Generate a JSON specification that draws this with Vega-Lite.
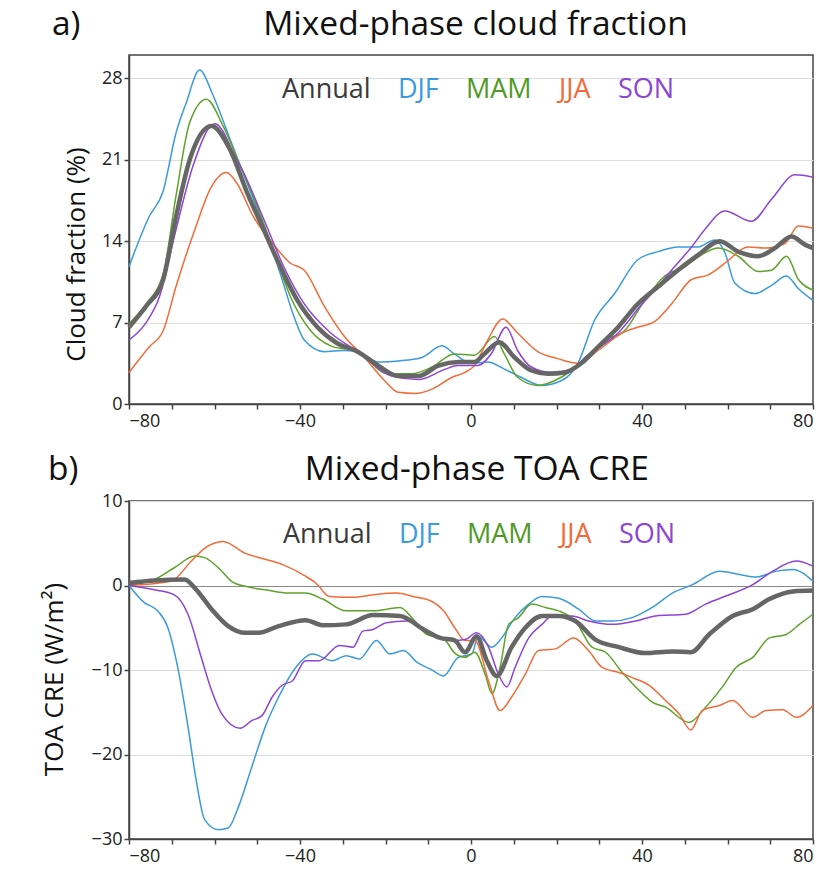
{
  "$schema": "https://vega.github.io/schema/vega-lite/v6.json",
  "padding": {"left": 40, "top": 6, "right": 5, "bottom": 5},
  "background": "white",
  "config": {
    "font": "Open Sans",
    "view": {"stroke": "#444", "strokeWidth": 1.5},
    "axis": {
      "labelFont": "Open Sans", "labelFontSize": 18, "labelColor": "#222",
      "titleFont": "Open Sans", "titleFontSize": 26, "titleFontWeight": "normal", "titleColor": "#111",
      "domainColor": "#444", "domainWidth": 1.5, "tickColor": "#444", "tickWidth": 1.5, "tickSize": 5,
      "gridColor": "#dddddd", "gridWidth": 1.2
    },
    "title": {"font": "Open Sans", "fontSize": 33.5, "fontWeight": "normal", "color": "#111", "anchor": "start", "frame": "group"},
    "legend": {"title": null}
  },
  "datasets": {
    "cf": [
      {"s":"Annual","lat":-80,"v":6.6},{"s":"Annual","lat":-76,"v":8.4},{"s":"Annual","lat":-72,"v":10.7},{"s":"Annual","lat":-69,"v":16.1},{"s":"Annual","lat":-65.8,"v":21},{"s":"Annual","lat":-60.7,"v":23.9},{"s":"Annual","lat":-56.4,"v":21.9},{"s":"Annual","lat":-52.4,"v":18.2},{"s":"Annual","lat":-48.5,"v":15},{"s":"Annual","lat":-44.6,"v":11.8},{"s":"Annual","lat":-40.6,"v":8.9},{"s":"Annual","lat":-35.9,"v":6.6},{"s":"Annual","lat":-31.2,"v":5.2},{"s":"Annual","lat":-26.5,"v":4.5},{"s":"Annual","lat":-21.7,"v":3.3},{"s":"Annual","lat":-17,"v":2.4},{"s":"Annual","lat":-12.3,"v":2.4},{"s":"Annual","lat":-7.6,"v":3.3},{"s":"Annual","lat":-2.8,"v":3.6},{"s":"Annual","lat":0.8,"v":3.6},{"s":"Annual","lat":3.1,"v":4.3},{"s":"Annual","lat":6.6,"v":5.3},{"s":"Annual","lat":10.2,"v":4.0},{"s":"Annual","lat":14,"v":2.9},{"s":"Annual","lat":18,"v":2.6},{"s":"Annual","lat":21.9,"v":2.7},{"s":"Annual","lat":25.8,"v":3.5},{"s":"Annual","lat":29.7,"v":4.9},{"s":"Annual","lat":34.4,"v":6.6},{"s":"Annual","lat":39,"v":8.6},{"s":"Annual","lat":43.8,"v":10.1},{"s":"Annual","lat":48.4,"v":11.5},{"s":"Annual","lat":53.1,"v":12.8},{"s":"Annual","lat":58.2,"v":14.0},{"s":"Annual","lat":62.5,"v":13.1},{"s":"Annual","lat":67.2,"v":12.7},{"s":"Annual","lat":71.1,"v":13.4},{"s":"Annual","lat":75,"v":14.4},{"s":"Annual","lat":78.1,"v":13.7},{"s":"Annual","lat":80,"v":13.4},
      {"s":"DJF","lat":-80,"v":11.8},{"s":"DJF","lat":-75.3,"v":16.1},{"s":"DJF","lat":-72.1,"v":18.2},{"s":"DJF","lat":-69,"v":23.3},{"s":"DJF","lat":-66.6,"v":25.9},{"s":"DJF","lat":-63.5,"v":28.7},{"s":"DJF","lat":-60.3,"v":26.5},{"s":"DJF","lat":-56.4,"v":22.8},{"s":"DJF","lat":-52.4,"v":19},{"s":"DJF","lat":-48.5,"v":15.3},{"s":"DJF","lat":-44.6,"v":11.2},{"s":"DJF","lat":-41.4,"v":7.5},{"s":"DJF","lat":-39,"v":5.5},{"s":"DJF","lat":-34.3,"v":4.5},{"s":"DJF","lat":-30,"v":4.6},{"s":"DJF","lat":-26.5,"v":4.5},{"s":"DJF","lat":-21.7,"v":3.6},{"s":"DJF","lat":-17,"v":3.7},{"s":"DJF","lat":-11.5,"v":4.0},{"s":"DJF","lat":-6.8,"v":5.0},{"s":"DJF","lat":-3.9,"v":4.3},{"s":"DJF","lat":0,"v":3.5},{"s":"DJF","lat":3.9,"v":3.6},{"s":"DJF","lat":7.8,"v":3.0},{"s":"DJF","lat":11.7,"v":2.3},{"s":"DJF","lat":16.4,"v":1.6},{"s":"DJF","lat":21.1,"v":2.0},{"s":"DJF","lat":25,"v":3.5},{"s":"DJF","lat":28.9,"v":7.2},{"s":"DJF","lat":33.6,"v":9.5},{"s":"DJF","lat":39,"v":12.4},{"s":"DJF","lat":43.8,"v":13.1},{"s":"DJF","lat":48.4,"v":13.5},{"s":"DJF","lat":53.1,"v":13.5},{"s":"DJF","lat":57,"v":14.1},{"s":"DJF","lat":59.4,"v":13},{"s":"DJF","lat":61.7,"v":10.4},{"s":"DJF","lat":66.4,"v":9.5},{"s":"DJF","lat":70.3,"v":10.2},{"s":"DJF","lat":73.8,"v":11},{"s":"DJF","lat":76.6,"v":9.9},{"s":"DJF","lat":80,"v":8.9},
      {"s":"MAM","lat":-80,"v":6.9},{"s":"MAM","lat":-76,"v":8.6},{"s":"MAM","lat":-72,"v":11.2},{"s":"MAM","lat":-69,"v":17.9},{"s":"MAM","lat":-65.8,"v":24.2},{"s":"MAM","lat":-61.9,"v":26.2},{"s":"MAM","lat":-58,"v":23.9},{"s":"MAM","lat":-54,"v":20.5},{"s":"MAM","lat":-50,"v":17},{"s":"MAM","lat":-46,"v":13},{"s":"MAM","lat":-42.2,"v":9.2},{"s":"MAM","lat":-37.5,"v":6.3},{"s":"MAM","lat":-32.8,"v":5.0},{"s":"MAM","lat":-26.5,"v":4.5},{"s":"MAM","lat":-19.4,"v":2.6},{"s":"MAM","lat":-13.9,"v":2.6},{"s":"MAM","lat":-9,"v":3.2},{"s":"MAM","lat":-3.9,"v":4.3},{"s":"MAM","lat":0.8,"v":4.2},{"s":"MAM","lat":5.5,"v":5.8},{"s":"MAM","lat":7.8,"v":4.3},{"s":"MAM","lat":10.9,"v":2.3},{"s":"MAM","lat":15.6,"v":1.6},{"s":"MAM","lat":21.1,"v":2.3},{"s":"MAM","lat":25,"v":3.3},{"s":"MAM","lat":31.3,"v":5.5},{"s":"MAM","lat":35.9,"v":6.3},{"s":"MAM","lat":40.6,"v":8.9},{"s":"MAM","lat":45.3,"v":11},{"s":"MAM","lat":50,"v":11.8},{"s":"MAM","lat":54.7,"v":13},{"s":"MAM","lat":57.8,"v":13.4},{"s":"MAM","lat":62.5,"v":12.7},{"s":"MAM","lat":67.2,"v":11.4},{"s":"MAM","lat":70.3,"v":11.5},{"s":"MAM","lat":73.8,"v":12.7},{"s":"MAM","lat":76.6,"v":10.7},{"s":"MAM","lat":80,"v":9.8},
      {"s":"JJA","lat":-80,"v":2.7},{"s":"JJA","lat":-75.3,"v":4.9},{"s":"JJA","lat":-72,"v":6.3},{"s":"JJA","lat":-69,"v":10.1},{"s":"JJA","lat":-64.3,"v":15.3},{"s":"JJA","lat":-61.1,"v":18.4},{"s":"JJA","lat":-57.2,"v":19.9},{"s":"JJA","lat":-54.8,"v":19},{"s":"JJA","lat":-50.9,"v":16.1},{"s":"JJA","lat":-47,"v":14.1},{"s":"JJA","lat":-42.2,"v":12.1},{"s":"JJA","lat":-39,"v":11.5},{"s":"JJA","lat":-34.3,"v":8.4},{"s":"JJA","lat":-29.6,"v":5.8},{"s":"JJA","lat":-24.9,"v":4.0},{"s":"JJA","lat":-20.2,"v":2.0},{"s":"JJA","lat":-17,"v":1.0},{"s":"JJA","lat":-13,"v":0.9},{"s":"JJA","lat":-9,"v":1.3},{"s":"JJA","lat":-4.4,"v":2.3},{"s":"JJA","lat":-1.5,"v":2.7},{"s":"JJA","lat":0.8,"v":3.3},{"s":"JJA","lat":3.9,"v":5.5},{"s":"JJA","lat":7.4,"v":7.3},{"s":"JJA","lat":10.9,"v":6.1},{"s":"JJA","lat":15.6,"v":4.5},{"s":"JJA","lat":20.3,"v":3.9},{"s":"JJA","lat":25,"v":3.5},{"s":"JJA","lat":29.7,"v":4.6},{"s":"JJA","lat":35.9,"v":6.2},{"s":"JJA","lat":39,"v":6.6},{"s":"JJA","lat":43,"v":7.1},{"s":"JJA","lat":46.9,"v":8.6},{"s":"JJA","lat":51.6,"v":10.7},{"s":"JJA","lat":55.5,"v":11.1},{"s":"JJA","lat":59.4,"v":12.1},{"s":"JJA","lat":64.8,"v":13.5},{"s":"JJA","lat":68.8,"v":13.4},{"s":"JJA","lat":73.4,"v":13.8},{"s":"JJA","lat":76.6,"v":15.3},{"s":"JJA","lat":80,"v":15.1},
      {"s":"SON","lat":-80,"v":5.5},{"s":"SON","lat":-76,"v":7.0},{"s":"SON","lat":-72.9,"v":9.2},{"s":"SON","lat":-69,"v":15},{"s":"SON","lat":-65,"v":20.5},{"s":"SON","lat":-59.9,"v":24.1},{"s":"SON","lat":-54.8,"v":21},{"s":"SON","lat":-53.2,"v":19.9},{"s":"SON","lat":-48.5,"v":15.9},{"s":"SON","lat":-43.8,"v":11.8},{"s":"SON","lat":-39,"v":8.6},{"s":"SON","lat":-32.8,"v":6.1},{"s":"SON","lat":-26.5,"v":4.5},{"s":"SON","lat":-18.6,"v":2.4},{"s":"SON","lat":-12.3,"v":2.1},{"s":"SON","lat":-6,"v":3.0},{"s":"SON","lat":-3.1,"v":3.3},{"s":"SON","lat":1.6,"v":3.3},{"s":"SON","lat":4.7,"v":4.3},{"s":"SON","lat":8.2,"v":6.6},{"s":"SON","lat":10.9,"v":4.6},{"s":"SON","lat":14,"v":3.2},{"s":"SON","lat":18.8,"v":2.7},{"s":"SON","lat":23.4,"v":3.0},{"s":"SON","lat":27.3,"v":4.2},{"s":"SON","lat":34.4,"v":6.1},{"s":"SON","lat":39.8,"v":8.5},{"s":"SON","lat":43,"v":9.8},{"s":"SON","lat":46.9,"v":11.5},{"s":"SON","lat":51.6,"v":13.5},{"s":"SON","lat":54.7,"v":15},{"s":"SON","lat":59.4,"v":16.6},{"s":"SON","lat":65.6,"v":15.7},{"s":"SON","lat":70.3,"v":17.6},{"s":"SON","lat":75.8,"v":19.7},{"s":"SON","lat":80,"v":19.5}
    ],
    "cre": [
      {"s":"Annual","lat":-80,"v":0.3},{"s":"Annual","lat":-74,"v":0.6},{"s":"Annual","lat":-67,"v":0.7},{"s":"Annual","lat":-64.6,"v":-0.3},{"s":"Annual","lat":-60.7,"v":-2.8},{"s":"Annual","lat":-56.8,"v":-4.8},{"s":"Annual","lat":-52.8,"v":-5.6},{"s":"Annual","lat":-49.7,"v":-5.6},{"s":"Annual","lat":-45,"v":-4.8},{"s":"Annual","lat":-38.7,"v":-4.1},{"s":"Annual","lat":-34.7,"v":-4.7},{"s":"Annual","lat":-29.2,"v":-4.6},{"s":"Annual","lat":-22.9,"v":-3.5},{"s":"Annual","lat":-16.6,"v":-3.6},{"s":"Annual","lat":-11.1,"v":-5.2},{"s":"Annual","lat":-7.2,"v":-6.2},{"s":"Annual","lat":-3.8,"v":-6.5},{"s":"Annual","lat":-1.4,"v":-7.9},{"s":"Annual","lat":1.3,"v":-6.0},{"s":"Annual","lat":3.7,"v":-8.9},{"s":"Annual","lat":6,"v":-10.7},{"s":"Annual","lat":9.5,"v":-7.3},{"s":"Annual","lat":12.7,"v":-5.0},{"s":"Annual","lat":16.6,"v":-3.6},{"s":"Annual","lat":20.5,"v":-3.6},{"s":"Annual","lat":24.4,"v":-4.2},{"s":"Annual","lat":29.1,"v":-6.4},{"s":"Annual","lat":34.6,"v":-7.3},{"s":"Annual","lat":40.8,"v":-8.0},{"s":"Annual","lat":47.1,"v":-7.8},{"s":"Annual","lat":51.4,"v":-7.9},{"s":"Annual","lat":55.7,"v":-5.8},{"s":"Annual","lat":61.2,"v":-3.6},{"s":"Annual","lat":65.9,"v":-2.8},{"s":"Annual","lat":69.8,"v":-1.6},{"s":"Annual","lat":75.3,"v":-0.7},{"s":"Annual","lat":80,"v":-0.6},
      {"s":"DJF","lat":-80,"v":0},{"s":"DJF","lat":-76.5,"v":-2.0},{"s":"DJF","lat":-73.3,"v":-3.0},{"s":"DJF","lat":-70.9,"v":-5.0},{"s":"DJF","lat":-68.6,"v":-9.7},{"s":"DJF","lat":-66.2,"v":-16.7},{"s":"DJF","lat":-64.3,"v":-23},{"s":"DJF","lat":-62.3,"v":-27.7},{"s":"DJF","lat":-59.1,"v":-28.9},{"s":"DJF","lat":-56.8,"v":-28.7},{"s":"DJF","lat":-54.4,"v":-26.2},{"s":"DJF","lat":-51.3,"v":-21.5},{"s":"DJF","lat":-48.1,"v":-16.7},{"s":"DJF","lat":-45,"v":-13.2},{"s":"DJF","lat":-41,"v":-9.7},{"s":"DJF","lat":-37.1,"v":-8.1},{"s":"DJF","lat":-32.4,"v":-8.9},{"s":"DJF","lat":-29.2,"v":-8.3},{"s":"DJF","lat":-26.1,"v":-8.7},{"s":"DJF","lat":-22.1,"v":-6.5},{"s":"DJF","lat":-19,"v":-8.1},{"s":"DJF","lat":-15.8,"v":-7.7},{"s":"DJF","lat":-12.6,"v":-9.1},{"s":"DJF","lat":-9.5,"v":-9.9},{"s":"DJF","lat":-6.4,"v":-10.7},{"s":"DJF","lat":-3,"v":-8.5},{"s":"DJF","lat":0.2,"v":-8.1},{"s":"DJF","lat":1.7,"v":-6.0},{"s":"DJF","lat":4.9,"v":-7.3},{"s":"DJF","lat":7.2,"v":-6.2},{"s":"DJF","lat":10.3,"v":-3.8},{"s":"DJF","lat":13.5,"v":-2.2},{"s":"DJF","lat":16.6,"v":-1.3},{"s":"DJF","lat":20.5,"v":-1.5},{"s":"DJF","lat":25.2,"v":-2.8},{"s":"DJF","lat":29.1,"v":-4.2},{"s":"DJF","lat":33,"v":-4.2},{"s":"DJF","lat":37.7,"v":-3.8},{"s":"DJF","lat":42.4,"v":-2.6},{"s":"DJF","lat":47.1,"v":-0.9},{"s":"DJF","lat":51.8,"v":0.1},{"s":"DJF","lat":58.1,"v":1.7},{"s":"DJF","lat":62.8,"v":1.3},{"s":"DJF","lat":66.7,"v":1.0},{"s":"DJF","lat":71.4,"v":1.7},{"s":"DJF","lat":75.3,"v":1.9},{"s":"DJF","lat":80,"v":0.5},
      {"s":"MAM","lat":-80,"v":0},{"s":"MAM","lat":-74.1,"v":0.7},{"s":"MAM","lat":-69.4,"v":2.1},{"s":"MAM","lat":-64.6,"v":3.5},{"s":"MAM","lat":-62.3,"v":3.3},{"s":"MAM","lat":-59.1,"v":2.1},{"s":"MAM","lat":-56,"v":0.5},{"s":"MAM","lat":-52.8,"v":-0.1},{"s":"MAM","lat":-48.1,"v":-0.5},{"s":"MAM","lat":-42.6,"v":-0.9},{"s":"MAM","lat":-38.7,"v":-0.9},{"s":"MAM","lat":-34.7,"v":-1.6},{"s":"MAM","lat":-29.2,"v":-3.0},{"s":"MAM","lat":-22.9,"v":-3.0},{"s":"MAM","lat":-16.6,"v":-2.6},{"s":"MAM","lat":-13.5,"v":-4.0},{"s":"MAM","lat":-10.3,"v":-5.8},{"s":"MAM","lat":-6.4,"v":-6.3},{"s":"MAM","lat":-3.8,"v":-8.0},{"s":"MAM","lat":-1.4,"v":-8.5},{"s":"MAM","lat":0.9,"v":-7.9},{"s":"MAM","lat":3.3,"v":-10.5},{"s":"MAM","lat":4.9,"v":-12.8},{"s":"MAM","lat":6.8,"v":-9.7},{"s":"MAM","lat":8.8,"v":-4.6},{"s":"MAM","lat":11.1,"v":-3.8},{"s":"MAM","lat":14.2,"v":-2.2},{"s":"MAM","lat":17.4,"v":-2.6},{"s":"MAM","lat":20.5,"v":-3.0},{"s":"MAM","lat":24.4,"v":-4.2},{"s":"MAM","lat":28.3,"v":-7.3},{"s":"MAM","lat":31.5,"v":-7.9},{"s":"MAM","lat":35.4,"v":-10.3},{"s":"MAM","lat":39.3,"v":-12.4},{"s":"MAM","lat":42.4,"v":-13.8},{"s":"MAM","lat":45.5,"v":-14.4},{"s":"MAM","lat":51,"v":-16.2},{"s":"MAM","lat":54.9,"v":-14.4},{"s":"MAM","lat":58.8,"v":-12},{"s":"MAM","lat":62,"v":-9.7},{"s":"MAM","lat":65.9,"v":-8.5},{"s":"MAM","lat":69.8,"v":-6.2},{"s":"MAM","lat":73.7,"v":-5.8},{"s":"MAM","lat":76.8,"v":-4.6},{"s":"MAM","lat":80,"v":-3.4},
      {"s":"JJA","lat":-80,"v":0},{"s":"JJA","lat":-70.2,"v":0.5},{"s":"JJA","lat":-65.4,"v":2.9},{"s":"JJA","lat":-62.3,"v":4.4},{"s":"JJA","lat":-58,"v":5.2},{"s":"JJA","lat":-52.8,"v":3.8},{"s":"JJA","lat":-48.1,"v":3.1},{"s":"JJA","lat":-44.2,"v":2.5},{"s":"JJA","lat":-38.7,"v":1.1},{"s":"JJA","lat":-36.3,"v":0.3},{"s":"JJA","lat":-33.1,"v":-1.3},{"s":"JJA","lat":-27.6,"v":-1.4},{"s":"JJA","lat":-22.9,"v":-1.1},{"s":"JJA","lat":-17.4,"v":-0.9},{"s":"JJA","lat":-13.5,"v":-1.3},{"s":"JJA","lat":-9.5,"v":-1.8},{"s":"JJA","lat":-6.4,"v":-3.0},{"s":"JJA","lat":-3.8,"v":-5.0},{"s":"JJA","lat":-1.4,"v":-6.5},{"s":"JJA","lat":0.9,"v":-6.5},{"s":"JJA","lat":4.1,"v":-11.3},{"s":"JJA","lat":6.8,"v":-14.8},{"s":"JJA","lat":9.5,"v":-13.2},{"s":"JJA","lat":12.7,"v":-10.5},{"s":"JJA","lat":15.8,"v":-7.7},{"s":"JJA","lat":19.7,"v":-7.5},{"s":"JJA","lat":24,"v":-6.2},{"s":"JJA","lat":27.5,"v":-7.7},{"s":"JJA","lat":30.7,"v":-9.7},{"s":"JJA","lat":34.6,"v":-10.3},{"s":"JJA","lat":37.7,"v":-10.9},{"s":"JJA","lat":41.6,"v":-11.8},{"s":"JJA","lat":45.5,"v":-13.6},{"s":"JJA","lat":48.7,"v":-15.2},{"s":"JJA","lat":51.4,"v":-17.1},{"s":"JJA","lat":54.1,"v":-14.8},{"s":"JJA","lat":58.1,"v":-14.2},{"s":"JJA","lat":61.2,"v":-13.6},{"s":"JJA","lat":65.9,"v":-15.6},{"s":"JJA","lat":69,"v":-14.8},{"s":"JJA","lat":72.9,"v":-14.7},{"s":"JJA","lat":76.1,"v":-15.6},{"s":"JJA","lat":80,"v":-14.2},
      {"s":"SON","lat":-80,"v":0},{"s":"SON","lat":-74.1,"v":-0.5},{"s":"SON","lat":-69.4,"v":-1.1},{"s":"SON","lat":-66.2,"v":-3.4},{"s":"SON","lat":-63.1,"v":-8.5},{"s":"SON","lat":-60.7,"v":-12.4},{"s":"SON","lat":-58.3,"v":-15.2},{"s":"SON","lat":-54,"v":-16.9},{"s":"SON","lat":-51.3,"v":-16},{"s":"SON","lat":-48.9,"v":-15.4},{"s":"SON","lat":-46.5,"v":-13.2},{"s":"SON","lat":-44.2,"v":-11.8},{"s":"SON","lat":-41.8,"v":-11.3},{"s":"SON","lat":-38.7,"v":-8.9},{"s":"SON","lat":-35.5,"v":-8.9},{"s":"SON","lat":-30.8,"v":-7.1},{"s":"SON","lat":-27.6,"v":-7.3},{"s":"SON","lat":-25.3,"v":-5.4},{"s":"SON","lat":-22.9,"v":-5.2},{"s":"SON","lat":-19.8,"v":-4.4},{"s":"SON","lat":-15,"v":-4.2},{"s":"SON","lat":-10,"v":-5.5},{"s":"SON","lat":-7,"v":-6.2},{"s":"SON","lat":-4,"v":-6.5},{"s":"SON","lat":-1.4,"v":-6.4},{"s":"SON","lat":1.3,"v":-5.6},{"s":"SON","lat":4.1,"v":-7.3},{"s":"SON","lat":6.4,"v":-10.5},{"s":"SON","lat":8.4,"v":-12.0},{"s":"SON","lat":10.3,"v":-9.7},{"s":"SON","lat":13.5,"v":-6.2},{"s":"SON","lat":16.6,"v":-4.6},{"s":"SON","lat":18.9,"v":-3.6},{"s":"SON","lat":23.6,"v":-3.6},{"s":"SON","lat":27.5,"v":-4.2},{"s":"SON","lat":33,"v":-4.6},{"s":"SON","lat":38.5,"v":-4.2},{"s":"SON","lat":43.2,"v":-3.6},{"s":"SON","lat":50.2,"v":-3.4},{"s":"SON","lat":54.9,"v":-2.2},{"s":"SON","lat":60.4,"v":-1.1},{"s":"SON","lat":65.9,"v":0.1},{"s":"SON","lat":70.6,"v":1.7},{"s":"SON","lat":76.1,"v":2.9},{"s":"SON","lat":80,"v":2.3}
    ]
  },
  "spacing": 20,
  "resolve": {"legend": {"color": "independent"}, "scale": {"color": "independent"}},
  "vconcat": [
    {
      "width": 684, "height": 349,
      "title": {"text": "a)\u00a0\u00a0\u00a0\u00a0\u00a0\u00a0\u00a0\u00a0\u00a0\u00a0\u00a0\u00a0\u00a0\u00a0\u00a0\u00a0\u00a0\u00a0\u00a0\u00a0\u00a0Mixed-phase cloud fraction", "dx": -77, "offset": 13},
      "data": {"name": "cf"},
      "encoding": {
        "x": {"field": "lat", "type": "quantitative", "scale": {"domain": [-80, 80], "nice": false},
              "axis": {"title": null, "values": [-80,-70,-60,-50,-40,-30,-20,-10,0,10,20,30,40,50,60,70,80], "labelExpr": "datum.value % 40 === 0 ? datum.label : ''", "grid": false, "labelPadding": 3}},
        "y": {"field": "v", "type": "quantitative", "scale": {"domain": [0, 30], "nice": false},
              "axis": {"title": "Cloud fraction (%)", "values": [0, 7, 14, 21, 28], "grid": true, "titlePadding": 12, "titleY": 199}},
        "color": {"field": "s", "type": "nominal",
                  "scale": {"domain": ["Annual", "DJF", "MAM", "JJA", "SON"], "range": ["#666666", "#3a9bdc", "#5ea32a", "#f26b38", "#8e44d4"]},
                  "legend": {"orient": "none", "legendX": 126, "legendY": 21, "direction": "horizontal", "title": null,
                             "symbolSize": 0, "symbolStrokeWidth": 0, "symbolOpacity": 0, "labelOffset": 0,
                             "labelFont": "Open Sans", "labelFontSize": 27, "columnPadding": -6, "labelLimit": 300,
                             "encode": {"labels": {"update": {"fill": {"signal": "datum.value === 'Annual' ? '#3a3a3a' : datum.value === 'DJF' ? '#3a9bdc' : datum.value === 'MAM' ? '#4f9a25' : datum.value === 'JJA' ? '#f26b38' : '#8e44d4'"}}}}}}
      },
      "layer": [
        {"transform": [{"filter": "datum.s !== 'Annual'"}], "mark": {"type": "line", "interpolate": "monotone", "strokeWidth": 1.5}},
        {"transform": [{"filter": "datum.s === 'Annual'"}], "mark": {"type": "line", "interpolate": "monotone", "strokeWidth": 4.5}}
      ]
    },
    {
      "width": 684, "height": 338,
      "title": {"text": "b)\u00a0\u00a0\u00a0\u00a0\u00a0\u00a0\u00a0\u00a0\u00a0\u00a0\u00a0\u00a0\u00a0\u00a0\u00a0\u00a0\u00a0\u00a0\u00a0\u00a0\u00a0\u00a0\u00a0\u00a0\u00a0\u00a0Mixed-phase TOA CRE", "dx": -81, "offset": 5},
      "data": {"name": "cre"},
      "encoding": {
        "x": {"field": "lat", "type": "quantitative", "scale": {"domain": [-80, 80], "nice": false},
              "axis": {"title": null, "values": [-80,-70,-60,-50,-40,-30,-20,-10,0,10,20,30,40,50,60,70,80], "labelExpr": "datum.value % 40 === 0 ? datum.label : ''", "grid": false, "labelPadding": 3}},
        "y": {"field": "v", "type": "quantitative", "scale": {"domain": [-30, 10], "nice": false},
              "axis": {"title": "TOA CRE (W/m²)", "values": [-30, -20, -10, 0, 10], "grid": true, "titlePadding": 24, "titleY": 178,
                       "gridColor": {"condition": {"test": "datum.value === 0", "value": "#888888"}, "value": "#dddddd"}}},
        "color": {"field": "s", "type": "nominal",
                  "scale": {"domain": ["Annual", "DJF", "MAM", "JJA", "SON"], "range": ["#666666", "#3a9bdc", "#5ea32a", "#f26b38", "#8e44d4"]},
                  "legend": {"orient": "none", "legendX": 127, "legendY": 20, "direction": "horizontal", "title": null,
                             "symbolSize": 0, "symbolStrokeWidth": 0, "symbolOpacity": 0, "labelOffset": 0,
                             "labelFont": "Open Sans", "labelFontSize": 27, "columnPadding": -6, "labelLimit": 300,
                             "encode": {"labels": {"update": {"fill": {"signal": "datum.value === 'Annual' ? '#3a3a3a' : datum.value === 'DJF' ? '#3a9bdc' : datum.value === 'MAM' ? '#4f9a25' : datum.value === 'JJA' ? '#f26b38' : '#8e44d4'"}}}}}}
      },
      "layer": [
        {"transform": [{"filter": "datum.s !== 'Annual'"}], "mark": {"type": "line", "interpolate": "monotone", "strokeWidth": 1.5}},
        {"transform": [{"filter": "datum.s === 'Annual'"}], "mark": {"type": "line", "interpolate": "monotone", "strokeWidth": 4.5}}
      ]
    }
  ]
}
